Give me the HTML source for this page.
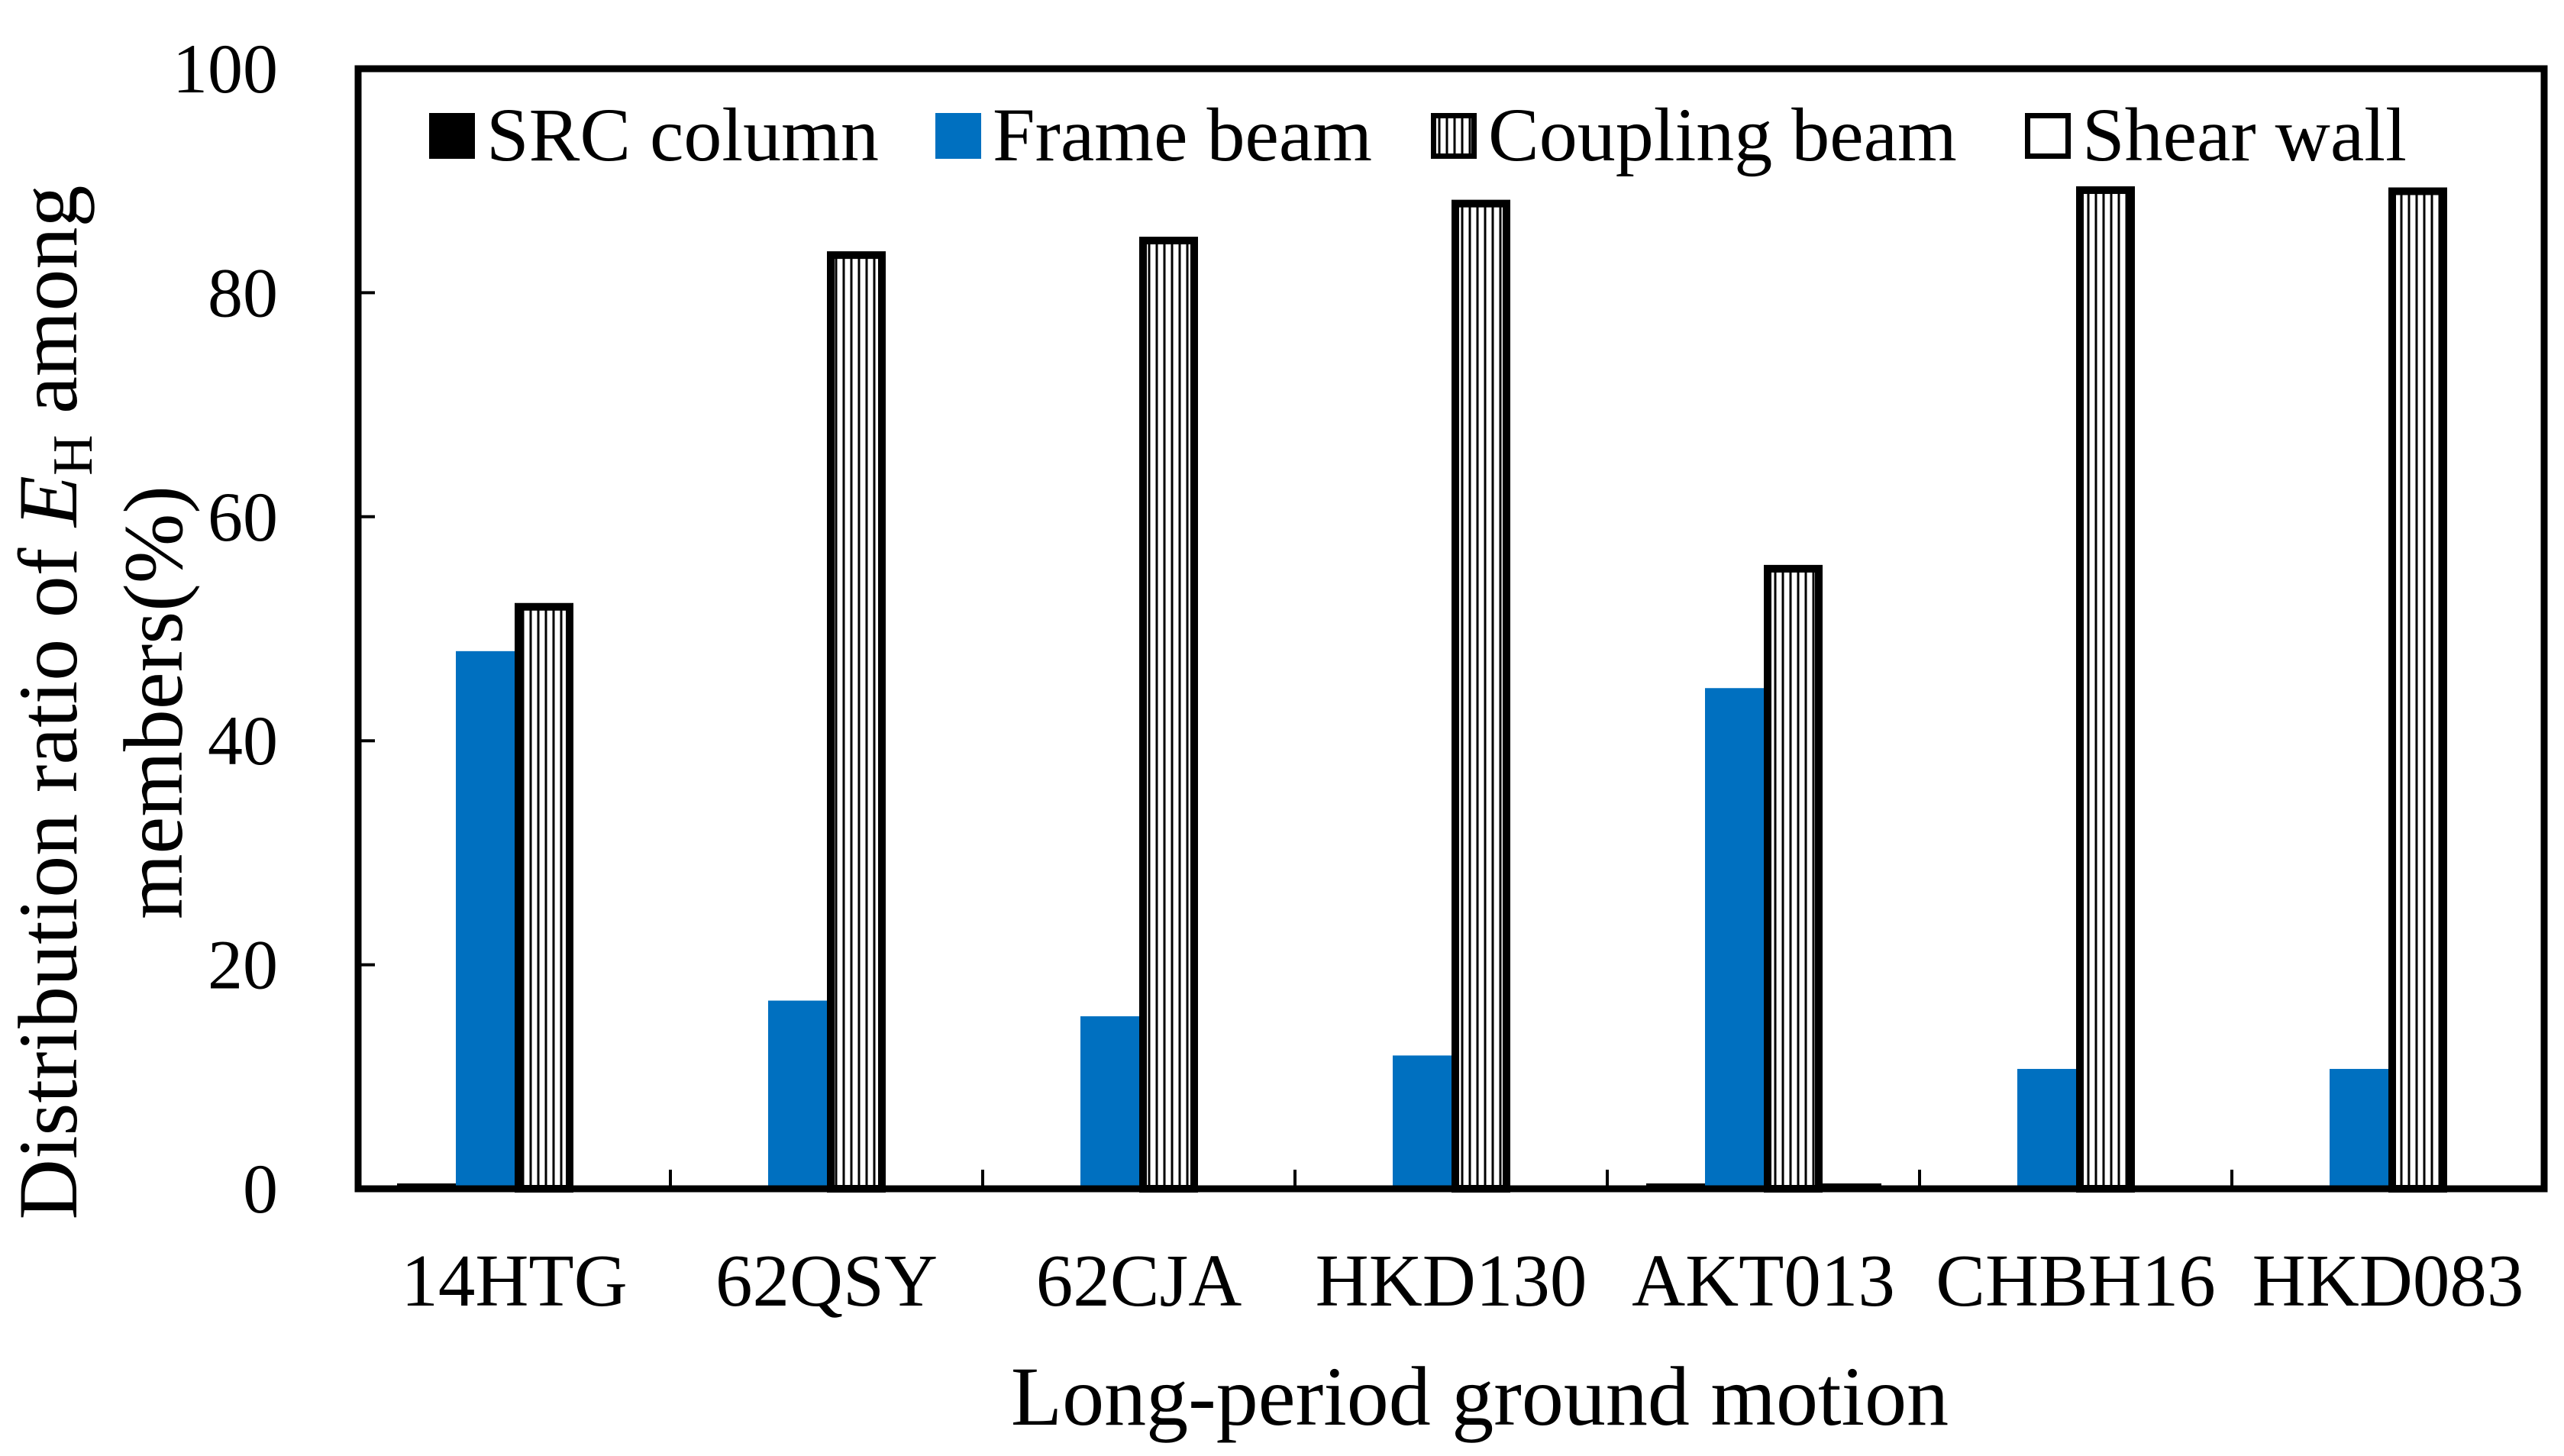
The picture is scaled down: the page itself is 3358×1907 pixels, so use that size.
<!DOCTYPE html>
<html><head><meta charset="utf-8"><style>
html,body{margin:0;padding:0;background:#fff}
svg{display:block;font-family:"Liberation Serif",serif}
</style></head><body>
<svg id="chart" width="3358" height="1907" viewBox="0 0 3358 1907" xmlns="http://www.w3.org/2000/svg">
<defs>
<pattern id="vhatch" patternUnits="userSpaceOnUse" width="10" height="10">
<rect width="10" height="10" fill="#fff"/>
<line x1="5" y1="0" x2="5" y2="10" stroke="#000" stroke-width="3"/>
</pattern>
</defs>
<g id="bars"></g>
<g id="axes"></g>
<g id="legend"></g>
<text x="1938" y="1866" font-size="110" text-anchor="middle">Long-period ground motion</text>
<g transform="translate(100,920) rotate(-90)">
<text x="0" y="0" font-size="110" text-anchor="middle">Distribution ratio of <tspan font-style="italic">E</tspan><tspan font-size="74" dy="20">H</tspan><tspan dy="-20"> among</tspan></text>
<text x="0" y="138" font-size="110" text-anchor="middle">members(%)</text>
</g>
</svg>
<script>
const categories = ["14HTG","62QSY","62CJA","HKD130","AKT013","CHBH16","HKD083"];
const srcColumn = [0.3,0,0,0,0.3,0,0];
const frameBeam = [48.0,16.8,15.4,11.9,44.7,10.7,10.7];
const couplingBeam = [52.3,83.7,85.0,88.3,55.7,89.5,89.4];
const shearWall = [0,0,0,0,0.3,0,0];
const yTicks = [0,20,40,60,80,100];

const NS="http://www.w3.org/2000/svg";
const L=469,R=3332,T=90,B=1557;
const gw=(R-L)/categories.length, bw=77, off=51;
const y=v=>B-(v/100)*(B-T);
const x=(i,k)=>L+i*gw+off+k*bw;
function mk(tag,attrs,parent){const e=document.createElementNS(NS,tag);for(const k in attrs)e.setAttribute(k,attrs[k]);parent.appendChild(e);return e;}
const bars=document.getElementById('bars'),axes=document.getElementById('axes'),legend=document.getElementById('legend');
const series=[
 {vals:srcColumn,fill:"#000",stroke:"#000",sw:0,name:"src-column"},
 {vals:frameBeam,fill:"#0070c0",stroke:"none",sw:0,name:"frame-beam"},
 {vals:couplingBeam,fill:"url(#vhatch)",stroke:"#000",sw:10,name:"coupling-beam"},
 {vals:shearWall,fill:"#000",stroke:"#000",sw:0,name:"shear-wall"}];
series.forEach((s,k)=>{
 s.vals.forEach((v,i)=>{
  if(v<=0)return;
  const h=B-y(v);
  const hh=Math.max(h,7);
  const r=mk('rect',{x:x(i,k)+(s.sw/2),y:B-hh+(s.sw/2),width:bw-s.sw,height:Math.max(hh-s.sw/2,1),fill:s.fill,stroke:s.stroke,'stroke-width':s.sw},bars);
  
  
 });
});
const f=mk('rect',{x:L,y:T,width:R-L,height:B-T,fill:"none",stroke:"#000","stroke-width":9},axes);


yTicks.forEach(t=>{
 const ln=mk('line',{x1:L,x2:L+22,y1:y(t),y2:y(t),stroke:"#000","stroke-width":4},axes);
 
 
 const tx=mk('text',{x:364,y:y(t)+31,"font-size":92,"text-anchor":"end"},axes);
 tx.textContent=t;
 
 
});
categories.forEach((c,i)=>{
 if(i>0){const ln=mk('line',{x1:L+i*gw,x2:L+i*gw,y1:B,y2:B-25,stroke:"#000","stroke-width":4},axes);
 
 }
 const tx=mk('text',{x:L+(i+0.5)*gw,y:1710,"font-size":97,"text-anchor":"middle"},axes);
 tx.textContent=c;
 
 
});
const leg=[["SRC column","#000","none",0,562],["Frame beam","#0070c0","none",0,1225],["Coupling beam","url(#vhatch)","#000",7,1874],["Shear wall","#fff","#000",7,2652]];
leg.forEach(l=>{
 const r=mk('rect',{x:l[4]+l[3]/2,y:148+l[3]/2,width:60-l[3],height:60-l[3],fill:l[1],stroke:l[2],"stroke-width":l[3]},legend);
 
 
 const t=mk('text',{x:l[4]+75,y:210,"font-size":100},legend);
 t.textContent=l[0];
 
 
});
</script>
</body></html>
